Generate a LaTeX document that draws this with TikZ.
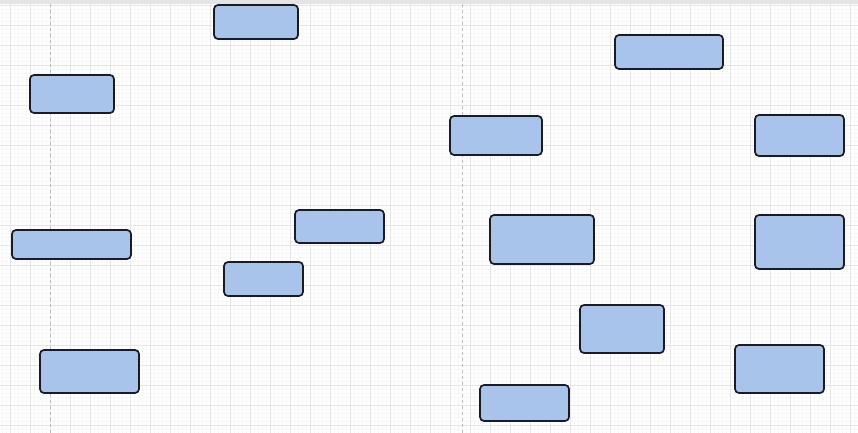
\documentclass[tikz,border=0pt]{standalone}
\usetikzlibrary{positioning}
\definecolor{boxfill}{HTML}{A9C4EB}
\definecolor{boxline}{HTML}{1B1B26}
\definecolor{majorgrid}{HTML}{E6E6E6}
\definecolor{minorgrid}{HTML}{F7F7F7}
\definecolor{guide}{HTML}{BDBDBD}
\definecolor{topband}{HTML}{E4E4E4}
\tikzset{
  blk/.style={draw=boxline, fill=boxfill, line width=1.7pt, rounded corners=4pt, inner sep=0pt},
}
\newcommand{\blkat}[5]{%
  \node[blk, minimum width={(#4-#2)*1pt}, minimum height={(#5-#3)*1pt}] (#1) at ({(#2+#4)/2},{(#3+#5)/2}) {};}
\begin{document}
\begin{tikzpicture}[x=1pt,y=-1pt]
\useasboundingbox (0,0) rectangle (858,433);
\fill[white] (0,0) rectangle (858,433);
% minor grid
\foreach \i in {0,...,215} {\draw[minorgrid, line width=0.4pt] ({2+4*\i},4) -- ({2+4*\i},433);}
\foreach \j in {0,...,108} {\draw[minorgrid, line width=0.4pt] (0,{5+4*\j}) -- (858,{5+4*\j});}
% major grid
\foreach \i in {0,...,43} {\draw[majorgrid, line width=0.6pt] ({10+20*\i},4) -- ({10+20*\i},433);}
\foreach \j in {0,...,21} {\draw[majorgrid, line width=0.6pt] (0,{5+20*\j}) -- (858,{5+20*\j});}
% guides
\draw[guide, dashed, line width=0.6pt] (50,4) -- (50,433);
\draw[guide, dashed, line width=0.6pt] (462,4) -- (462,433);
% top band
\fill[topband] (0,0) rectangle (858,4);
% boxes
\blkat{b1}{214}{5}{298}{39}
\blkat{b2}{30}{75}{114}{113}
\blkat{b3}{615}{35}{723}{69}
\blkat{b4}{450}{116}{542}{155}
\blkat{b5}{755}{115}{844}{156}
\blkat{b6}{12}{230}{131}{259}
\blkat{b7}{295}{210}{384}{243}
\blkat{b8}{224}{262}{303}{296}
\blkat{b9}{490}{215}{594}{264}
\blkat{b10}{755}{215}{844}{269}
\blkat{b11}{580}{305}{664}{353}
\blkat{b12}{40}{350}{139}{393}
\blkat{b13}{735}{345}{824}{393}
\blkat{b14}{480}{385}{569}{421}
\end{tikzpicture}
\end{document}
